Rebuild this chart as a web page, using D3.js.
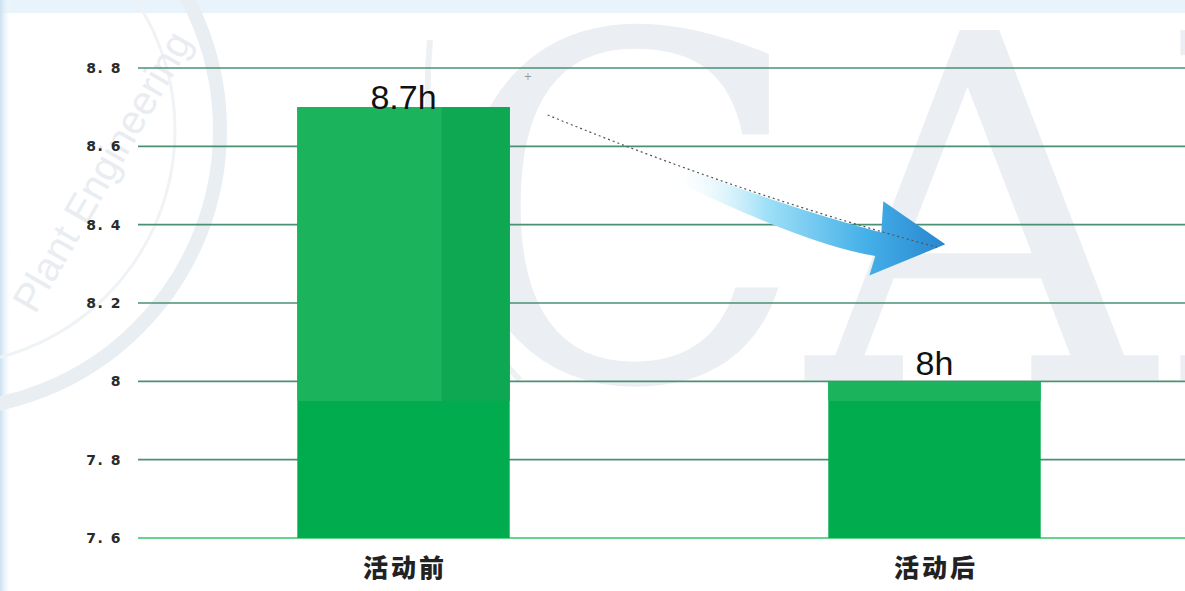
<!DOCTYPE html>
<html>
<head>
<meta charset="utf-8">
<script src="https://cdn.jsdelivr.net/npm/d3@7"></script>
<style>
  body { margin: 0; background: #fff; }
  svg { display: block; }
  .tick-label { font-family: "DejaVu Sans", sans-serif; font-weight: bold; font-size: 14px; letter-spacing: 1.5px; fill: #2a2a2a; }
  .cat-label { font-family: "Noto Sans CJK SC", sans-serif; font-weight: 900; font-size: 25px; letter-spacing: 3px; fill: #222; }
  .value-label { font-family: "Liberation Sans", Arial, sans-serif; font-size: 34px; fill: #111; }
</style>
</head>
<body>
<svg id="chart" width="1185" height="591"></svg>
<script>
// ------- Data -------
const categories = ['活动前', '活动后'];
const hours = [8.7, 8];
const valueLabels = ['8.7h', '8h'];
const yTicks = [7.6, 7.8, 8, 8.2, 8.4, 8.6, 8.8];

const svg = d3.select('#chart');
const width = +svg.attr('width');
const height = +svg.attr('height');

const margin = {top: 68, bottom: 53, left: 138, right: -15};

const x = d3.scaleBand()
    .domain(categories)
    .range([margin.left, width - margin.right])
    .paddingInner(0.6)
    .paddingOuter(0.3);

const y = d3.scaleLinear()
    .domain([7.6, 8.8])
    .range([height - margin.bottom, margin.top]);

// ------- Background watermark -------

const defs = svg.append('defs');

const edgeGrad = defs.append('linearGradient')
    .attr('id', 'edge')
    .attr('x1', 0).attr('x2', 1).attr('y1', 0).attr('y2', 0);
edgeGrad.append('stop').attr('offset', 0).attr('stop-color', '#c9e0f0');
edgeGrad.append('stop').attr('offset', 1).attr('stop-color', '#ffffff').attr('stop-opacity', 0);

defs.append('clipPath')
    .attr('id', 'page')
    .append('rect')
        .attr('width', width)
        .attr('height', height);

svg.append('rect')
    .attr('width', width).attr('height', 13)
    .attr('fill', '#e8f3fb');
svg.append('rect')
    .attr('width', 12).attr('height', height)
    .attr('fill', 'url(#edge)');

const wm = svg.append('g')
    .attr('class', 'watermark')
    .attr('clip-path', 'url(#page)');

wm.append('circle')
    .attr('cx', -60).attr('cy', 130)
    .attr('r', 280)
    .attr('fill', 'none')
    .attr('stroke', '#e9eef3')
    .attr('stroke-width', 14);

wm.append('circle')
    .attr('cx', -60).attr('cy', 130)
    .attr('r', 235)
    .attr('fill', 'none')
    .attr('stroke', '#f0f3f6')
    .attr('stroke-width', 3);

wm.append('path')
    .attr('d', 'M430,40 C420,150 440,300 520,380')
    .attr('fill', 'none')
    .attr('stroke', '#eef1f4')
    .attr('stroke-width', 6);

wm.append('text')
    .attr('x', 440)
    .attr('y', 380)
    .attr('font-family', '"DejaVu Serif", "Liberation Serif", serif')
    .attr('font-size', 480)
    .attr('fill', '#ebeef2')
    .text('CAI');

wm.append('text')
    .attr('transform', 'translate(35, 315) rotate(-60)')
    .attr('font-family', '"Liberation Sans", sans-serif')
    .attr('font-size', 40)
    .attr('fill', '#e9edf2')
    .text('Plant Engineering');

// ------- Grid lines and y tick labels -------

const gridG = svg.append('g').attr('class', 'grid');

gridG.selectAll('line')
    .data(yTicks)
    .enter()
    .append('line')
        .attr('x1', margin.left)
        .attr('x2', width)
        .attr('y1', d => y(d))
        .attr('y2', d => y(d))
        .attr('stroke', (d, i) => i === 0 ? '#35c464' : '#4a9073')
        .attr('stroke-width', 1.6);

gridG.selectAll('text')
    .data(yTicks)
    .enter()
    .append('text')
        .attr('class', 'tick-label')
        .attr('x', 122)
        .attr('y', d => y(d))
        .attr('dy', '0.35em')
        .attr('text-anchor', 'end')
        .text(d => d3.format('.1f')(d).replace('.0', '').replace('.', '. '));

// ------- Bars -------

const barG = svg.append('g').attr('class', 'bars');

const bar = barG.selectAll('g.bar')
    .data(categories)
    .enter()
    .append('g')
        .attr('class', 'bar');

bar.append('rect')
    .attr('x', d => x(d))
    .attr('y', (d, i) => y(hours[i]))
    .attr('width', x.bandwidth())
    .attr('height', (d, i) => y(7.6) - y(hours[i]))
    .attr('fill', '#00ac4e');

// lighter upper band on top of the bars
bar.append('rect')
    .attr('x', d => x(d))
    .attr('y', (d, i) => y(hours[i]))
    .attr('width', x.bandwidth())
    .attr('height', (d, i) => y(7.95) - y(hours[i]))
    .attr('fill', '#1bb35c');

// darker shade where the watermark crosses the first bar
bar.filter((d, i) => i === 0)
    .append('rect')
        .attr('x', d => x(d) + x.bandwidth() * 0.68)
        .attr('y', y(hours[0]))
        .attr('width', x.bandwidth() * 0.32)
        .attr('height', y(7.95) - y(hours[0]))
        .attr('fill', '#0ea853');

// ------- Value labels -------

svg.selectAll('text.value-label')
    .data(categories)
    .enter()
    .append('text')
        .attr('class', 'value-label')
        .attr('x', d => x(d) + x.bandwidth() / 2)
        .attr('y', (d, i) => y(hours[i]) - (i === 0 ? -2 : 6))
        .attr('text-anchor', 'middle')
        .text((d, i) => valueLabels[i]);

// ------- Category labels -------

svg.selectAll('text.cat-label')
    .data(categories)
    .enter()
    .append('text')
        .attr('class', 'cat-label')
        .attr('x', d => x(d) + x.bandwidth() / 2 + 1.5)
        .attr('y', y(7.6) + 39)
        .attr('text-anchor', 'middle')
        .text(d => d);

// ------- Decreasing arrow -------

const arrowGrad = defs.append('linearGradient')
    .attr('id', 'arrow')
    .attr('x1', 0).attr('x2', 1).attr('y1', 0).attr('y2', 0);
arrowGrad.append('stop').attr('offset', 0).attr('stop-color', '#ffffff').attr('stop-opacity', 0);
arrowGrad.append('stop').attr('offset', 0.3).attr('stop-color', '#ffffff').attr('stop-opacity', 0);
arrowGrad.append('stop').attr('offset', 0.55).attr('stop-color', '#9fe0f7');
arrowGrad.append('stop').attr('offset', 0.8).attr('stop-color', '#45b0e8');
arrowGrad.append('stop').attr('offset', 1).attr('stop-color', '#2886cf');

const ax0 = x(categories[0]) + x.bandwidth() + 38;
const ay0 = y(8.68);
const tipX = x(categories[1]) + 117;
const tipY = y(8.35);

svg.append('path')
    .attr('d', `M${ax0},${ay0}
        Q${ax0 + 200},${y(8.47)} ${tipX - 64},${y(8.38)}
        L${tipX - 62},${y(8.46)}
        L${tipX},${tipY}
        L${tipX - 76},${y(8.27)}
        L${tipX - 70},${y(8.32)}
        Q${ax0 + 230},${y(8.36)} ${ax0},${ay0} Z`)
    .attr('fill', 'url(#arrow)');

svg.append('path')
    .attr('d', `M${ax0},${ay0} Q${ax0 + 190},${y(8.48)} ${tipX - 8},${tipY + 3}`)
    .attr('fill', 'none')
    .attr('stroke', '#555')
    .attr('stroke-width', 1.2)
    .attr('stroke-dasharray', '2,3');

svg.append('text')
    .attr('x', ax0 - 24)
    .attr('y', y(8.77))
    .attr('font-family', '"DejaVu Sans", sans-serif')
    .attr('font-size', 10)
    .attr('fill', '#999')
    .text('+');
</script>
</body>
</html>
